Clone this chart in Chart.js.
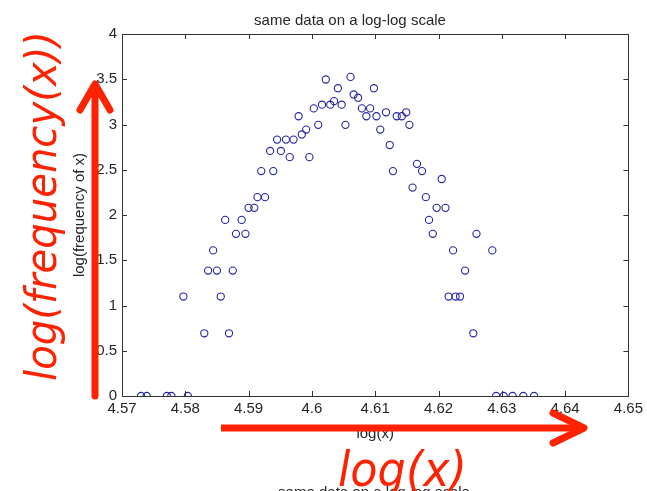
<!DOCTYPE html>
<html>
<head>
<meta charset="utf-8">
<script src="https://cdn.jsdelivr.net/npm/chart.js@4.4.1/dist/chart.umd.min.js"></script>
<style>
  body { margin: 0; background: #ffffff; }
  canvas { display: block; }
</style>
</head>
<body>
<canvas id="myChart" width="647" height="491"></canvas>
<script>
// values: log(x) and log(frequency of x)
const logX = [
  4.5730, 4.5739, 4.5771, 4.5778, 4.5804, 4.5797, 4.5830, 4.5869, 4.5836, 4.5850,
  4.5875, 4.5844, 4.5856, 4.5863, 4.5889, 4.5880, 4.5895, 4.5900, 4.5909, 4.5914,
  4.5926, 4.5920, 4.5939, 4.5934, 4.5951, 4.5945, 4.5959, 4.5971, 4.5965, 4.5996,
  4.5979, 4.5984, 4.5991, 4.6003, 4.6010, 4.6016, 4.6022, 4.6029, 4.6035, 4.6041,
  4.6047, 4.6053, 4.6061, 4.6066, 4.6073, 4.6079, 4.6086, 4.6092, 4.6098, 4.6102,
  4.6108, 4.6117, 4.6123, 4.6128, 4.6134, 4.6142, 4.6149, 4.6154, 4.6159, 4.6166,
  4.6174, 4.6180, 4.6185, 4.6191, 4.6197, 4.6205, 4.6211, 4.6216, 4.6223, 4.6227,
  4.6234, 4.6242, 4.6255, 4.6260, 4.6285, 4.6291, 4.6303, 4.6317, 4.6334, 4.6351
];
const logFreq = [
  0, 0, 0, 0, 0, 1.099, 0.693, 0.693, 1.386, 1.386,
  1.386, 1.609, 1.099, 1.946, 1.946, 1.792, 1.792, 2.079, 2.079, 2.197,
  2.197, 2.485, 2.485, 2.708, 2.708, 2.833, 2.833, 2.833, 2.639, 2.639,
  3.091, 2.890, 2.944, 3.178, 2.996, 3.219, 3.497, 3.219, 3.258, 3.401,
  3.219, 2.996, 3.526, 3.332, 3.296, 3.178, 3.091, 3.178, 3.401, 3.091,
  2.944, 3.135, 2.773, 2.485, 3.091, 3.091, 3.135, 2.996, 2.303, 2.565,
  2.485, 2.197, 1.946, 1.792, 2.079, 2.398, 2.079, 1.099, 1.609, 1.099,
  1.099, 1.386, 0.693, 1.792, 1.609, 0, 0, 0, 0, 0
];

const xTickValues = [4.57, 4.58, 4.59, 4.60, 4.61, 4.62, 4.63, 4.64, 4.65];
const xTickLabels = ['4.57', '4.58', '4.59', '4.6', '4.61', '4.62', '4.63', '4.64', '4.65'];
const yTickValues = [0, 0.5, 1, 1.5, 2, 2.5, 3, 3.5, 4];
const yTickLabels = ['0', '0.5', '1', '1.5', '2', '2.5', '3', '3.5', '4'];

const textFont = 'Liberation Sans, Arial, sans-serif';
const inkColor = '#262626';
const red = '#ff2200';

// matlab style box with inward ticks on all four sides, plus the red notes on top
const boxAndNotes = {
  id: 'boxAndNotes',
  afterDraw(chart) {
    const ctx = chart.ctx;
    const { left, right, top, bottom } = chart.chartArea;
    const xs = chart.scales.x;
    const ys = chart.scales.y;
    const tick = 5;

    ctx.save();
    ctx.strokeStyle = '#333333';
    ctx.lineWidth = 1;
    ctx.strokeRect(Math.round(left) + 0.5, Math.round(top) + 0.5,
      Math.round(right - left), Math.round(bottom - top));
    ctx.beginPath();
    xTickValues.forEach(v => {
      const px = Math.round(xs.getPixelForValue(v)) + 0.5;
      ctx.moveTo(px, bottom); ctx.lineTo(px, bottom - tick);
      ctx.moveTo(px, top); ctx.lineTo(px, top + tick);
    });
    yTickValues.forEach(v => {
      const py = Math.round(ys.getPixelForValue(v)) + 0.5;
      ctx.moveTo(left, py); ctx.lineTo(left + tick, py);
      ctx.moveTo(right, py); ctx.lineTo(right - tick, py);
    });
    ctx.stroke();

    // the second plot's title peeking in at the bottom edge
    ctx.fillStyle = inkColor;
    ctx.font = '15px ' + textFont;
    ctx.textAlign = 'center';
    ctx.textBaseline = 'alphabetic';
    ctx.fillText('same data on a log-log scale', 374, 497);

    // red arrows
    ctx.strokeStyle = red;
    ctx.lineWidth = 7;
    ctx.lineCap = 'round';
    ctx.lineJoin = 'round';
    ctx.beginPath();
    ctx.moveTo(95, 396); ctx.lineTo(95, 86);
    ctx.moveTo(80, 110); ctx.lineTo(95, 84); ctx.lineTo(110, 110);
    ctx.stroke();
    ctx.beginPath();
    ctx.lineCap = 'butt';
    ctx.moveTo(221, 428); ctx.lineTo(582, 428);
    ctx.stroke();
    ctx.lineCap = 'round';
    ctx.beginPath();
    ctx.moveTo(553, 413); ctx.lineTo(584, 428); ctx.lineTo(553, 443);
    ctx.stroke();

    // red handwritten labels
    ctx.fillStyle = red;
    ctx.textAlign = 'left';
    ctx.font = 'oblique 43px DejaVu Sans, sans-serif';
    const yText = 'log(frequency(x))';
    const sy = 350 / ctx.measureText(yText).width;
    ctx.save();
    ctx.translate(56, 381);
    ctx.rotate(-Math.PI / 2);
    ctx.scale(sy, 1);
    ctx.fillText(yText, 0, 0);
    ctx.restore();

    ctx.font = 'oblique 48px DejaVu Sans, sans-serif';
    const xText = 'log(x)';
    const sx = 129 / ctx.measureText(xText).width;
    ctx.save();
    ctx.translate(338, 486);
    ctx.scale(sx, 1);
    ctx.fillText(xText, 0, 0);
    ctx.restore();
    ctx.restore();
  }
};

const points = logX.map((x, i) => ({ x: x, y: logFreq[i] }));

new Chart(document.getElementById('myChart'), {
  type: 'scatter',
  data: {
    datasets: [{
      data: points,
      pointStyle: 'circle',
      pointRadius: 3.6,
      pointBorderWidth: 1.1,
      borderColor: '#2424a8',
      backgroundColor: 'rgba(0,0,0,0)'
    }]
  },
  options: {
    responsive: false,
    animation: false,
    layout: { padding: { left: 71, right: 18, top: 0, bottom: 48 } },
    plugins: {
      legend: { display: false },
      tooltip: { enabled: false },
      title: {
        display: true,
        text: 'same data on a log-log scale',
        color: inkColor,
        font: { family: textFont, size: 15, weight: 'normal' },
        padding: { top: 12, bottom: 4 }
      }
    },
    scales: {
      x: {
        type: 'linear',
        min: 4.57,
        max: 4.65,
        afterBuildTicks: scale => { scale.ticks = xTickValues.map(v => ({ value: v })); },
        afterFit: scale => { scale.height = 47; },
        grid: { display: false, drawTicks: false },
        border: { display: false },
        ticks: {
          autoSkip: false,
          maxRotation: 0,
          padding: 4,
          color: inkColor,
          font: { family: textFont, size: 15 },
          callback: (v, i) => xTickLabels[i]
        },
        title: {
          display: true,
          text: 'log(x)',
          color: inkColor,
          padding: 0,
          font: { family: textFont, size: 15 }
        }
      },
      y: {
        type: 'linear',
        min: 0,
        max: 4,
        afterBuildTicks: scale => { scale.ticks = yTickValues.map(v => ({ value: v })); },
        afterFit: scale => { scale.width = 51; },
        grid: { display: false, drawTicks: false },
        border: { display: false },
        ticks: {
          autoSkip: false,
          padding: 5,
          color: inkColor,
          font: { family: textFont, size: 15 },
          callback: (v, i) => yTickLabels[i]
        },
        title: {
          display: true,
          text: 'log(frequency of x)',
          color: inkColor,
          padding: 0,
          font: { family: textFont, size: 15 }
        }
      }
    }
  },
  plugins: [boxAndNotes]
});
</script>
</body>
</html>
